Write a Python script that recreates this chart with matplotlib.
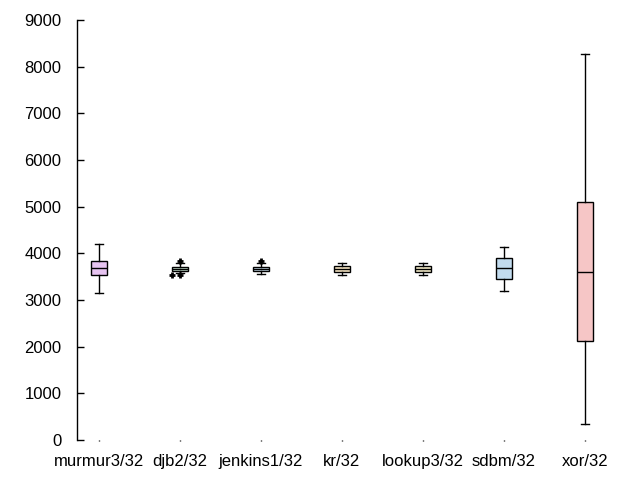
import numpy as np
import matplotlib.pyplot as plt

plt.rcParams['font.family'] = ['Liberation Sans', 'DejaVu Sans']

# hash function names
names = ['murmur3/32', 'djb2/32', 'jenkins1/32', 'kr/32', 'lookup3/32', 'sdbm/32', 'xor/32']

# box stats
whislo = [3150, 3571, 3557, 3536, 3536, 3186, 336]
q1 = [3529, 3629, 3629, 3607, 3607, 3443, 2121]
med = [3679, 3671, 3671, 3671, 3671, 3679, 3600]
q3 = [3829, 3700, 3707, 3729, 3729, 3893, 5093]
whishi = [4193, 3786, 3786, 3786, 3786, 4129, 8271]
fliers = [[], [3836, 3529], [3836], [], [], [], []]

colors = ['#e6c3f0', '#d3f0dc', '#d3e8f6', '#fbe9c6', '#f9f1cc', '#c2dbee', '#f6c6c6']

stats = []
for i in range(len(names)):
    stats.append(dict(label=names[i], whislo=whislo[i], q1=q1[i], med=med[i],
                      q3=q3[i], whishi=whishi[i], fliers=fliers[i]))

fig = plt.figure(figsize=(6.4, 4.8), dpi=100)
ax = fig.add_axes([0.12, 0.0833, 0.828, 0.875])

bp = ax.bxp(stats, positions=np.arange(1, 8), widths=0.2, patch_artist=True,
            boxprops=dict(linewidth=1.0, edgecolor='black'),
            medianprops=dict(color='black', linewidth=1.0),
            whiskerprops=dict(color='black', linewidth=1.0),
            capprops=dict(color='black', linewidth=1.0),
            flierprops=dict(marker='+', markersize=5, markeredgewidth=2,
                            markeredgecolor='black'))
for patch, c in zip(bp['boxes'], colors):
    patch.set_facecolor(c)

# extra djb2 outlier drawn slightly left of its box
ax.plot([2 - 0.1], [3529], marker='+', markersize=5, markeredgewidth=2, color='black')

ax.set_xlim(0.728, 7.272)
ax.set_ylim(0, 9000)
ax.set_yticks(np.arange(0, 9001, 1000))

for s in ['top', 'right', 'bottom']:
    ax.spines[s].set_visible(False)
ax.spines['left'].set_linewidth(1.0)

ax.tick_params(axis='y', direction='in', length=5, width=1, pad=11, labelsize=12)
ax.tick_params(axis='x', direction='out', length=1, width=1, pad=9, labelsize=12)

plt.savefig('out.png')
